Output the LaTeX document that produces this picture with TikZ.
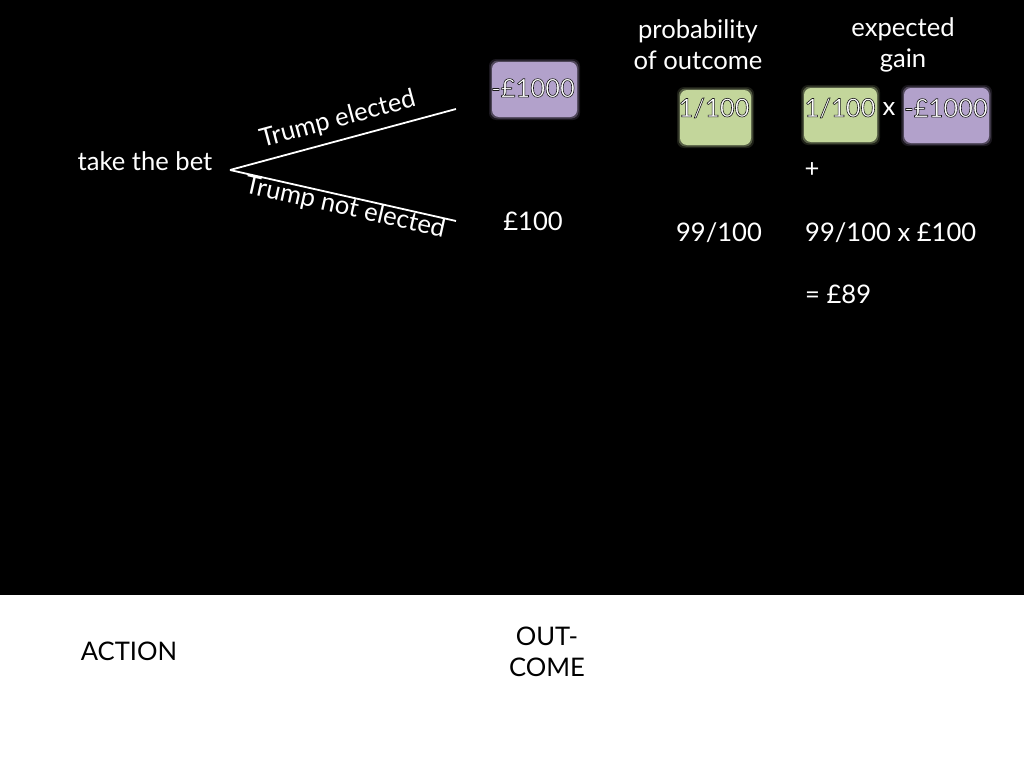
\documentclass[tikz,border=0pt]{standalone}
\usepackage{fontspec}
\setmainfont{Lato}
\definecolor{purplebox}{HTML}{B2A1CB}
\definecolor{greenbox}{HTML}{C3D69B}
\tikzset{
  txt/.style={inner sep=0pt, font=\fontsize{25.6}{31}\selectfont, text=white, align=center},
  darktxt/.style={txt, text=black},
  branch/.style={draw=white, line width=1.8pt},
  blab/.style={txt, sloped},
  gbox/.style={fill=greenbox, rounded corners=7pt},
  pbox/.style={fill=purplebox, rounded corners=7pt},
}
\newcommand\outlined[1]{\special{pdf:literal direct 2 Tr 0.6 w 0.1 0.1 0.1 RG}#1\special{pdf:literal direct 0 Tr}}
\newcommand\softbox[3]{% style, corner1, corner2
  \fill[#1, opacity=0.15] ([shift={(-3pt,3pt)}]#2) rectangle ([shift={(3pt,-3pt)}]#3);
  \fill[#1, opacity=0.35] ([shift={(-1.5pt,1.5pt)}]#2) rectangle ([shift={(1.5pt,-1.5pt)}]#3);
  \fill[#1] (#2) rectangle (#3);}
\begin{document}
\begin{tikzpicture}[x=1pt,y=-1pt]
\useasboundingbox (0,0) rectangle (1024,768);
\fill[black] (0,0) rectangle (1024,595);
\fill[white] (0,595) rectangle (1024,768);
% boxes
\softbox{pbox}{492,62}{577,117}
\softbox{gbox}{680,90}{751,145}
\softbox{gbox}{804,88}{877,142}
\softbox{pbox}{904,88}{989,143}
% tree
\node[txt] (bet) at (145,161) {take the bet};
\coordinate (root) at (230,170);
\coordinate (e1) at (456,109);
\coordinate (e2) at (456,221);
\draw[branch] (root) -- node[blab, above=8pt, pos=0.5] {Trump elected} (e1);
\draw[branch] (root) -- node[blab, below=-1pt, pos=0.52] {Trump not elected} (e2);
\node[txt] (o1) at (533,88) {\outlined{-£1000}};
\node[txt] (o2) at (533,221) {£100};
% probability column
\node[txt] (ph) at (698,45) {probability\\of outcome};
\node[txt] (p1) at (714,108) {\outlined{1/100}};
\node[txt] (p2) at (719,233) {99/100};
% expected gain column
\node[txt] (eh) at (903,45) {expected\\gain};
\node[txt] (g1) at (840,108) {\outlined{1/100}};
\node[txt] (gx) at (889,109) {x};
\node[txt] (g2) at (946,108) {\outlined{-£1000}};
\node[txt] (plus) at (812,170) {+};
\node[txt, anchor=west] (g3) at (805,233) {99/100 x £100};
\node[txt, anchor=west] (g4) at (805,294) {= £89};
% bottom labels
\node[darktxt] (act) at (129,651) {ACTION};
\node[darktxt] (out) at (547,652) {OUT-\\COME};
\end{tikzpicture}
\end{document}
